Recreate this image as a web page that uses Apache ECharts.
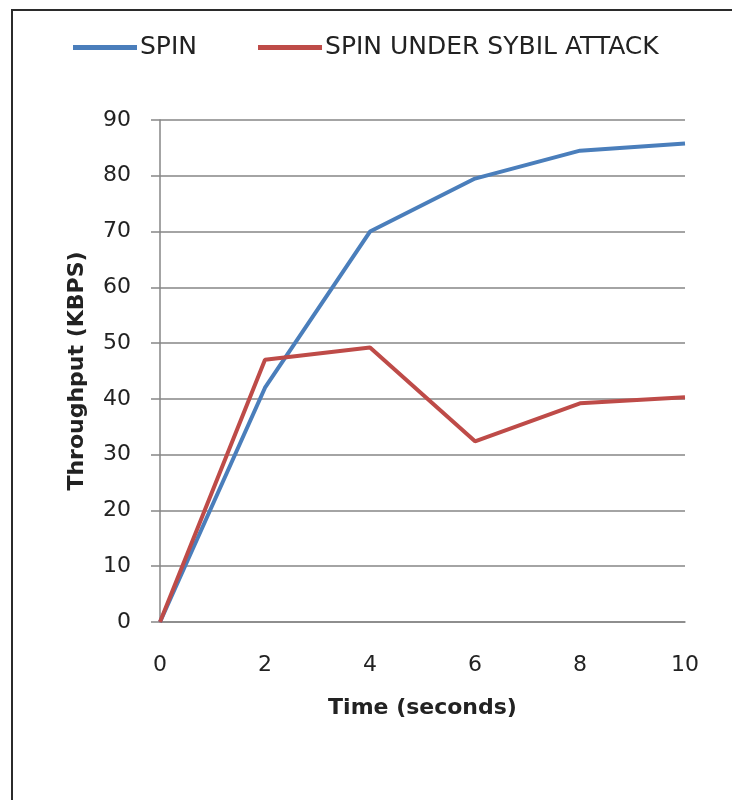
<!DOCTYPE html>
<html>
<head>
<meta charset="utf-8">
<script src="https://cdn.jsdelivr.net/npm/echarts@6/dist/echarts.min.js"></script>
<style>
  html, body { margin: 0; padding: 0; background: #fff; }
  #chart { width: 732px; height: 800px; }
</style>
</head>
<body>
<div id="chart"></div>
<script>
var timeLabels = ['0', '2', '4', '6', '8', '10'];
var spin = [0, 42, 70, 79.5, 84.5, 85.8];
var spinSybil = [0, 47, 49.2, 32.4, 39.2, 40.3];

var chart = echarts.init(document.getElementById('chart'));
var font = '"DejaVu Sans", Verdana, sans-serif';

chart.setOption({
  backgroundColor: '#fff',
  animation: false,
  graphic: [{
    type: 'rect',
    shape: { x: 12, y: 10, width: 900, height: 900 },
    style: { fill: 'none', stroke: '#2b2b2b', lineWidth: 2 }
  }],
  legend: {
    left: 68,
    top: 30,
    itemWidth: 64,
    itemHeight: 5,
    itemGap: 61,
    icon: 'rect',
    textStyle: { fontFamily: font, fontSize: 25, color: '#222', padding: [0, 0, 0, -2] },
    data: ['SPIN', 'SPIN UNDER SYBIL ATTACK']
  },
  grid: { left: 160, right: 47, top: 120, bottom: 178 },
  xAxis: {
    type: 'category',
    data: timeLabels,
    boundaryGap: false,
    name: 'Time (seconds)',
    nameLocation: 'middle',
    nameGap: 75,
    nameTextStyle: { fontFamily: font, fontSize: 22, fontWeight: 'bold', color: '#222' },
    axisLine: { lineStyle: { color: '#868686', width: 1.5 } },
    axisTick: { show: false },
    axisLabel: { margin: 32, fontFamily: font, fontSize: 22, color: '#222' },
    splitLine: { show: false }
  },
  yAxis: {
    type: 'value',
    min: 0,
    max: 90,
    interval: 10,
    name: 'Throughput (KBPS)',
    nameLocation: 'middle',
    nameRotate: 90,
    nameGap: 72,
    nameTextStyle: { fontFamily: font, fontSize: 22, fontWeight: 'bold', color: '#222' },
    axisLine: { show: true, lineStyle: { color: '#868686', width: 1.5 } },
    axisTick: { show: true, length: 9, lineStyle: { color: '#868686', width: 1.5 } },
    axisLabel: { margin: 29, fontFamily: font, fontSize: 22, color: '#222' },
    splitLine: { lineStyle: { color: '#868686', width: 1.5 } }
  },
  series: [{
    name: 'SPIN',
    type: 'line',
    data: spin,
    symbol: 'none',
    color: '#4A7EBB',
    lineStyle: { width: 4, color: '#4A7EBB' }
  }, {
    name: 'SPIN UNDER SYBIL ATTACK',
    type: 'line',
    data: spinSybil,
    symbol: 'none',
    color: '#BE4B48',
    lineStyle: { width: 4, color: '#BE4B48' }
  }]
});
</script>
</body>
</html>
